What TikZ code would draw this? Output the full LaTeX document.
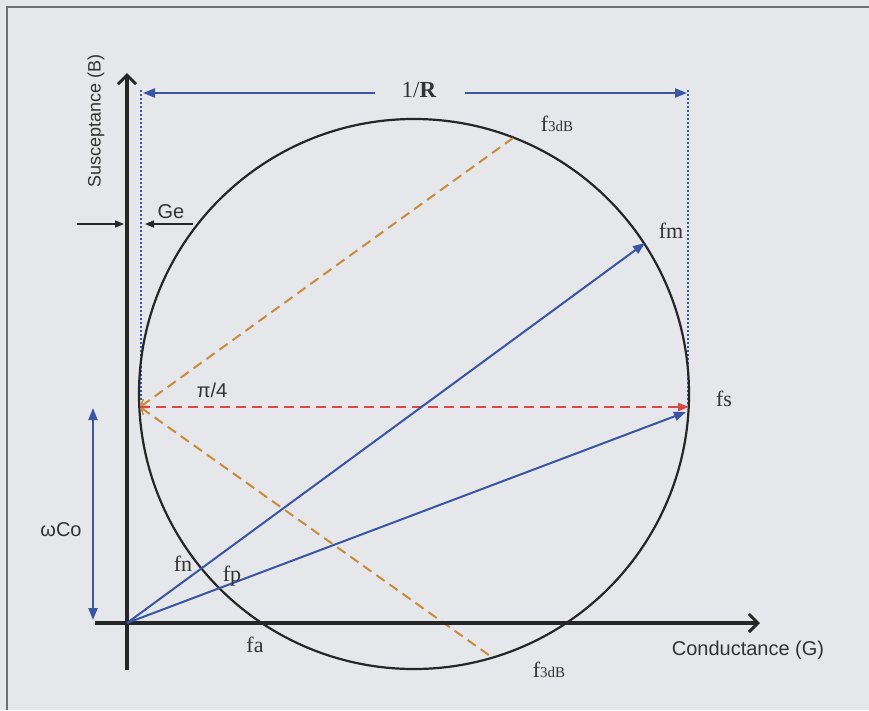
\documentclass[tikz,border=0pt]{standalone}
\usepackage{fontspec}
\setmainfont{Liberation Serif}
\setsansfont{Liberation Sans}
\usetikzlibrary{arrows.meta}
\definecolor{bgc}{HTML}{E6E7EA}
\definecolor{axc}{HTML}{262626}
\definecolor{bluc}{HTML}{3A55A2}
\definecolor{orc}{HTML}{C98C3C}
\definecolor{redc}{HTML}{D84848}
\definecolor{framec}{HTML}{707070}
\definecolor{txtc}{HTML}{333333}
\begin{document}
\begin{tikzpicture}[x=1pt,y=-1pt,
  axisline/.style={line width=4.5pt, draw=axc, -{Straight Barb[length=9pt,width=18pt,line width=3pt]}},
  blueline/.style={line width=2pt, draw=bluc, -{Triangle[length=12pt,width=9pt]}},
  dotline/.style={line width=2.2pt, draw=bluc, dash pattern=on 2pt off 2pt},
  orline/.style={line width=2pt, draw=orc, dash pattern=on 10pt off 6pt, {Straight Barb[length=6pt,width=9pt,line width=1.5pt]}-},
  redline/.style={line width=2pt, draw=redc, dash pattern=on 10pt off 6pt, -{Triangle[length=11pt,width=8pt]}},
  smallarrow/.style={line width=1.4pt, draw=axc, -{Triangle[length=9pt,width=7pt]}},
  sfl/.style={text=txtc, font=\sffamily\fontsize{20}{24}\selectfont, inner sep=0pt},
  serl/.style={text=txtc, font=\fontsize{22}{26}\selectfont, inner sep=0pt}
]
\useasboundingbox (0,0) rectangle (869,710);
\fill[bgc] (0,0) rectangle (869,710);
% frame
\draw[framec, line width=1.6pt] (7,710) -- (7,7) -- (869,7);

% coordinates
\coordinate (O) at (127,623);
\coordinate (xs) at (95,623);
\coordinate (xe) at (760,623);
\coordinate (ys) at (127,670);
\coordinate (ye) at (127,73);
\coordinate (C) at (414,394);
\coordinate (L) at (140,407);
\coordinate (R) at (689,407);
\coordinate (Pm) at (645,243);
\coordinate (Ps) at (686,412);
\coordinate (Pt) at (513,138);
\coordinate (Pb) at (493,658);
\coordinate (dlt) at (141,90);
\coordinate (dlb) at (141,402);
\coordinate (drt) at (688,90);
\coordinate (drb) at (688,405);
\coordinate (rl1) at (375,93);
\coordinate (rl2) at (143,93);
\coordinate (rr1) at (465,93);
\coordinate (rr2) at (687,93);
\coordinate (ga1) at (77,224);
\coordinate (ga2) at (124,224);
\coordinate (gb1) at (193,224);
\coordinate (gb2) at (145,224);
\coordinate (wt) at (93,408);
\coordinate (wb) at (93,620);

% dotted guides
\draw[dotline] (dlt) -- (dlb);
\draw[dotline] (drt) -- (drb);

% circle
\draw[axc, line width=2.2pt] (C) circle[radius=275];

% dashed lines
\draw[orline] (L) -- (Pt);
\draw[orline] (L) -- (Pb);
\draw[redline] (L) -- (R);

% axes
\draw[axisline] (xs) -- (xe);
\draw[axisline] (ys) -- (ye);

% blue arrows
\draw[blueline] (O) -- (Pm);
\draw[blueline] (O) -- (Ps);
\draw[blueline] (rl1) -- (rl2);
\draw[blueline] (rr1) -- (rr2);
\draw[line width=2pt, draw=bluc, {Triangle[length=12pt,width=9pt]}-{Triangle[length=12pt,width=9pt]}] (wt) -- (wb);

% Ge arrows
\draw[smallarrow] (ga1) -- (ga2);
\draw[smallarrow] (gb1) -- (gb2);

% labels
\node[sfl] (cond) at (748,650) {Conductance (G)};
\node[sfl, font=\sffamily\fontsize{18}{22}\selectfont, rotate=90] (susc) at (96,121) {Susceptance (B)};
\node[sfl] (ge) at (171,212) {Ge};
\node[sfl] (pi) at (212,390) {π/4};
\node[sfl] (wco) at (61,530) {ωCo};
\node[serl, font=\fontsize{23}{27}\selectfont] (invr) at (419,90) {1/\textbf{R}};
\node[serl] (fm) at (671,231) {fm};
\node[serl] (fs) at (724,399) {fs};
\node[serl] (fn) at (183,564) {fn};
\node[serl] (fp) at (232,576) {fp};
\node[serl] (fa) at (255,645) {fa};
\node[serl] (f3t) at (557,124) {f{\fontsize{15}{15}\selectfont 3dB}};
\node[serl] (f3b) at (549,670) {f{\fontsize{15}{15}\selectfont 3dB}};
\end{tikzpicture}
\end{document}
